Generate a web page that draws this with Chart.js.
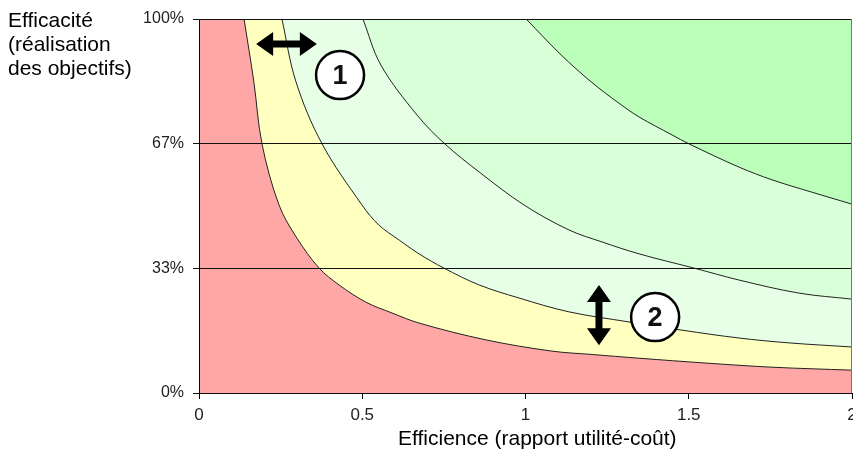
<!DOCTYPE html>
<html lang="fr">
<head>
<meta charset="UTF-8">
<title>Efficacité / Efficience</title>
<script src="https://cdn.jsdelivr.net/npm/chart.js"></script>
<style>
    * { margin: 0; padding: 0; box-sizing: border-box; }
    body { background: #fff; width: 853px; height: 452px; overflow: hidden; font-family: "Liberation Sans", Arial, sans-serif; }
    .wrap { position: relative; width: 853px; height: 452px; }
    .y-title {
        position: absolute; left: 8px; top: 8px;
        font-size: 21px; line-height: 24px; color: #000;
    }
    .x-title {
        position: absolute; left: 398px; top: 426px;
        font-size: 21px; line-height: 24px; color: #000; white-space: nowrap;
    }
</style>
</head>
<body>
<div class="wrap">
    <canvas id="chart"></canvas>
    <div class="y-title">Efficacité<br>(réalisation<br>des objectifs)</div>
    <div class="x-title">Efficience (rapport utilité-coût)</div>
</div>
<script>
// boundary curves (x = efficience, y = efficacité 0..1)
const curve1X = [0.138, 0.168, 0.193, 0.245, 0.300, 0.368, 0.429, 0.511, 0.591, 0.674, 0.879, 1.081, 1.204, 1.348, 1.553, 1.755, 2.0];
const curve1Y = [1.0, 0.832, 0.666, 0.503, 0.414, 0.334, 0.289, 0.243, 0.214, 0.187, 0.142, 0.112, 0.103, 0.093, 0.080, 0.069, 0.061];

const curve2X = [0.254, 0.297, 0.377, 0.499, 0.551, 0.613, 0.674, 0.750, 0.858, 0.980, 1.133, 1.317, 1.479, 1.654, 1.807, 2.0];
const curve2Y = [1.0, 0.832, 0.666, 0.503, 0.449, 0.409, 0.372, 0.334, 0.289, 0.254, 0.217, 0.190, 0.168, 0.147, 0.134, 0.123];

const curve3X = [0.502, 0.557, 0.668, 0.753, 0.858, 0.995, 1.133, 1.234, 1.348, 1.516, 1.654, 1.838, 2.0];
const curve3Y = [1.0, 0.877, 0.743, 0.666, 0.591, 0.503, 0.436, 0.404, 0.372, 0.334, 0.302, 0.267, 0.251];

const curve4X = [1.002, 1.109, 1.201, 1.286, 1.348, 1.449, 1.501, 1.654, 1.755, 1.877, 2.0];
const curve4Y = [1.0, 0.904, 0.832, 0.775, 0.738, 0.690, 0.666, 0.604, 0.570, 0.537, 0.505];

const xTickValues = [0, 0.5, 1, 1.5, 2];
const xTickLabels = ['0', '0.5', '1', '1.5', '2'];
const yTickValues = [0, 0.3333, 0.6667, 1];
const yTickLabels = ['0%', '33%', '67%', '100%'];

// callouts (data coordinates)
const arrow1 = { x1: 0.175, x2: 0.361, y: 0.933 };
const arrow2 = { x: 1.225, y1: 0.289, y2: 0.128 };
const badges = [
    { x: 0.432, y: 0.850, label: '1' },
    { x: 1.397, y: 0.203, label: '2' }
];

const zoneColors = ['#BBFFBB', '#D9FFD9', '#E6FFE6', '#FFFFC0'];
const bgColor = '#FFA6A6';

function pts(xs, ys) {
    return xs.map((x, i) => ({ x: x, y: ys[i] }));
}

function curve(xs, ys, color) {
    return {
        data: pts(xs, ys),
        showLine: true,
        fill: 'end',
        backgroundColor: color,
        borderColor: '#222',
        borderWidth: 1,
        pointRadius: 0,
        tension: 0.35
    };
}

function doubleArrow(ctx, ax, ay, bx, by) {
    const len = Math.hypot(bx - ax, by - ay);
    const shaft = 3.5, headL = 17, headW = 12;
    ctx.save();
    ctx.translate(ax, ay);
    ctx.rotate(Math.atan2(by - ay, bx - ax));
    ctx.beginPath();
    ctx.moveTo(0, 0);
    ctx.lineTo(headL, -headW);
    ctx.lineTo(headL, -shaft);
    ctx.lineTo(len - headL, -shaft);
    ctx.lineTo(len - headL, -headW);
    ctx.lineTo(len, 0);
    ctx.lineTo(len - headL, headW);
    ctx.lineTo(len - headL, shaft);
    ctx.lineTo(headL, shaft);
    ctx.lineTo(headL, headW);
    ctx.closePath();
    ctx.fillStyle = '#000';
    ctx.fill();
    ctx.restore();
}

const backdrop = {
    id: 'backdrop',
    beforeDraw(chart) {
        const a = chart.chartArea;
        const ctx = chart.ctx;
        ctx.save();
        ctx.fillStyle = bgColor;
        ctx.fillRect(a.left, a.top, a.right - a.left, a.bottom - a.top);
        ctx.restore();
    },
    afterDraw(chart) {
        const ctx = chart.ctx;
        const a = chart.chartArea;
        const xs = chart.scales.x, ys = chart.scales.y;
        ctx.save();
        // right edge of the plot
        ctx.strokeStyle = '#777';
        ctx.lineWidth = 1;
        ctx.beginPath();
        ctx.moveTo(a.right - 0.5, a.top);
        ctx.lineTo(a.right - 0.5, a.bottom);
        ctx.stroke();

        doubleArrow(ctx, xs.getPixelForValue(arrow1.x1), ys.getPixelForValue(arrow1.y),
            xs.getPixelForValue(arrow1.x2), ys.getPixelForValue(arrow1.y));
        doubleArrow(ctx, xs.getPixelForValue(arrow2.x), ys.getPixelForValue(arrow2.y1),
            xs.getPixelForValue(arrow2.x), ys.getPixelForValue(arrow2.y2));

        badges.forEach(b => {
            const cx = xs.getPixelForValue(b.x), cy = ys.getPixelForValue(b.y);
            ctx.beginPath();
            ctx.arc(cx, cy, 24, 0, Math.PI * 2);
            ctx.fillStyle = '#fff';
            ctx.fill();
            ctx.lineWidth = 2.5;
            ctx.strokeStyle = '#000';
            ctx.stroke();
            ctx.fillStyle = '#111';
            ctx.font = 'bold 27px "Liberation Sans", Arial, sans-serif';
            ctx.textAlign = 'center';
            ctx.textBaseline = 'middle';
            ctx.fillText(b.label, cx, cy + 1);
        });
        ctx.restore();
    }
};

new Chart(document.getElementById('chart'), {
    type: 'scatter',
    data: {
        datasets: [
            curve(curve4X, curve4Y, zoneColors[0]),
            curve(curve3X, curve3Y, zoneColors[1]),
            curve(curve2X, curve2Y, zoneColors[2]),
            curve(curve1X, curve1Y, zoneColors[3])
        ]
    },
    plugins: [backdrop],
    options: {
        responsive: true,
        maintainAspectRatio: false,
        animation: false,
        layout: { padding: { left: 0, right: 1, top: 19, bottom: 0 } },
        plugins: {
            legend: { display: false },
            tooltip: { enabled: false }
        },
        scales: {
            x: {
                type: 'linear',
                min: 0,
                max: 2,
                afterBuildTicks: s => { s.ticks = xTickValues.map(v => ({ value: v })); },
                afterFit: s => { s.height = 59; s.paddingRight = 0; s.paddingLeft = 0; },
                ticks: {
                    padding: 6,
                    color: '#222',
                    maxRotation: 0,
                    font: { family: '"Liberation Sans", Arial, sans-serif', size: 17 },
                    callback: (v, i) => xTickLabels[i]
                },
                grid: { drawOnChartArea: false, drawTicks: true, tickLength: 6, color: '#000', z: 1 },
                border: { color: '#000', width: 1, z: 1 }
            },
            y: {
                type: 'linear',
                min: 0,
                max: 1,
                afterBuildTicks: s => { s.ticks = yTickValues.map(v => ({ value: v })); },
                afterFit: s => { s.width = 199; },
                ticks: {
                    padding: 9,
                    color: '#222',
                    font: { family: '"Liberation Sans", Arial, sans-serif', size: 16 },
                    callback: (v, i) => yTickLabels[i]
                },
                grid: { color: '#111', lineWidth: 1, tickLength: 6, z: 1 },
                border: { color: '#000', width: 1, z: 1 }
            }
        }
    }
});
</script>
</body>
</html>
